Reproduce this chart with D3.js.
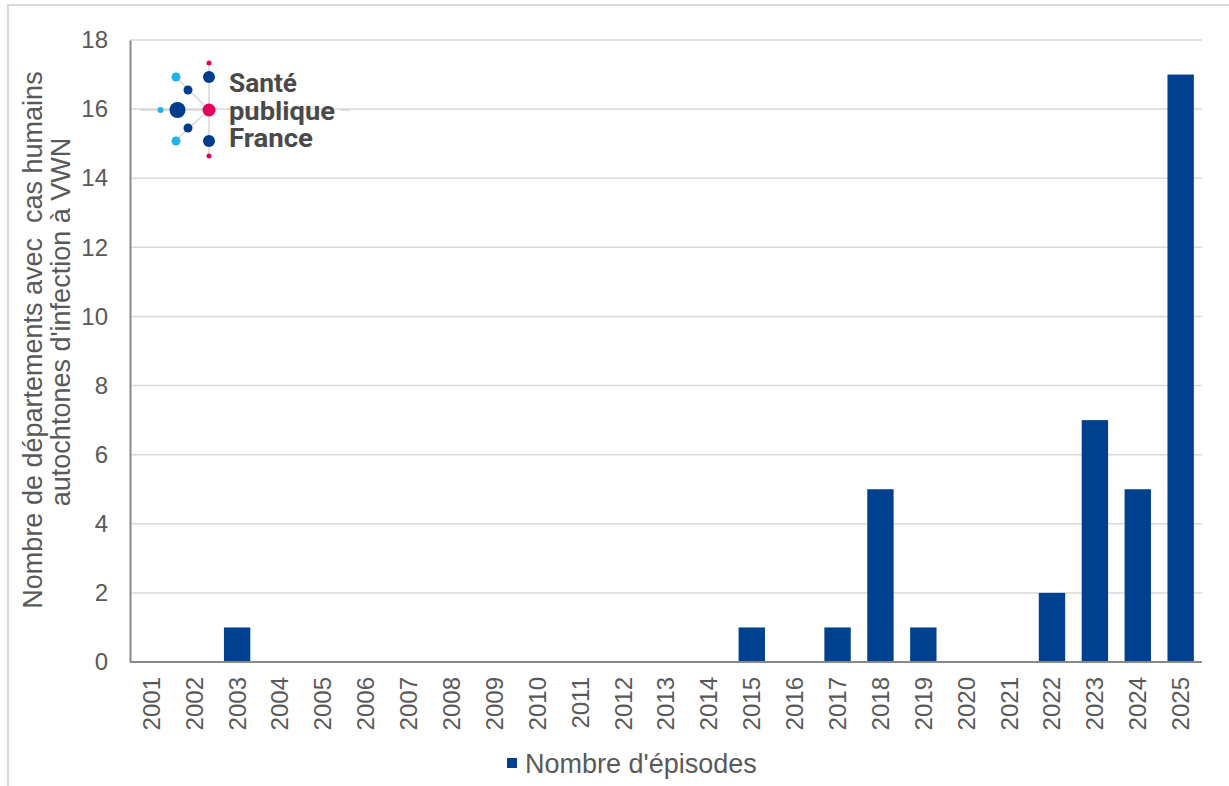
<!DOCTYPE html>
<html><head><meta charset="utf-8">
<script src="https://cdn.jsdelivr.net/npm/d3@7"></script>
<style>html,body{margin:0;padding:0;background:#fff;overflow:hidden}</style>
</head><body>
<script>
const years = ["2001","2002","2003","2004","2005","2006","2007","2008","2009","2010","2011","2012","2013","2014","2015","2016","2017","2018","2019","2020","2021","2022","2023","2024","2025"];
const episodes = [0,0,1,0,0,0,0,0,0,0,0,0,0,0,1,0,1,5,1,0,0,2,7,5,17];
const yTicks = [0,2,4,6,8,10,12,14,16,18];
const yTitle = ["Nombre de départements avec  cas humains", "autochtones d'infection à VWN"];
const seriesName = "Nombre d'épisodes";
const logoWords = ["Santé","publique","France"];

const W = 1229, H = 786;
const m = {left:130, right:1202, top:40, bottom:662};
const svg = d3.select("body").append("svg").attr("width", W).attr("height", H)
  .style("font-family", "'Liberation Sans', Arial, sans-serif");

// outer border
svg.append("path").attr("d", `M8,${H} V5 H${W}`).attr("fill","none").attr("stroke","#d9d9d9").attr("stroke-width",2);

const x = d3.scaleBand().domain(years).range([m.left, m.right]).paddingInner(0.385).paddingOuter(0.19);
const y = d3.scaleLinear().domain([0,18]).range([m.bottom, m.top]);

// gridlines
svg.append("g").selectAll("line").data(yTicks.filter(d=>d>0)).join("line")
  .attr("x1", m.left).attr("x2", m.right).attr("y1", d=>y(d)).attr("y2", d=>y(d))
  .attr("stroke","#d9d9d9").attr("stroke-width",1.5);

// bars
svg.append("g").selectAll("rect").data(years).join("rect")
  .attr("x", d=>x(d)).attr("width", x.bandwidth())
  .attr("y", (d,i)=>y(episodes[i])).attr("height", (d,i)=>y(0)-y(episodes[i]))
  .attr("fill","#00418f");

// y axis
const ya = svg.append("g").attr("transform",`translate(${m.left},0)`)
  .call(d3.axisLeft(y).tickValues(yTicks).tickSize(0).tickPadding(22));
ya.select(".domain").attr("stroke","#898989").attr("stroke-width",2);
ya.selectAll("text").attr("fill","#595959").style("font-size","24px").style("font-family","'Liberation Sans', Arial, sans-serif");

// x axis
const xa = svg.append("g").attr("transform",`translate(0,${m.bottom})`)
  .call(d3.axisBottom(x).tickSize(0));
xa.select(".domain").attr("stroke","#898989").attr("stroke-width",2)
  .attr("d", `M${m.left},0H${m.right}`);
xa.selectAll("text").attr("fill","#595959").style("font-size","24px").style("font-family","'Liberation Sans', Arial, sans-serif")
  .attr("transform","rotate(-90)").attr("text-anchor","end")
  .attr("x", -15).attr("y", 0).attr("dy","0.35em");

// y title
const tcx = [33, 61], tcy = [340, 322];
yTitle.forEach((t,i)=>{
  svg.append("text").attr("transform",`translate(${tcx[i]},${tcy[i]}) rotate(-90)`)
    .attr("text-anchor","middle").attr("dy","0.35em")
    .style("white-space","pre").attr("xml:space","preserve")
    .attr("fill","#595959").style("font-size","27px").text(t);
});

// legend
svg.append("rect").attr("x",507).attr("y",758).attr("width",10).attr("height",10).attr("fill","#00418f");
svg.append("text").attr("x",525).attr("y",773).attr("fill","#595959").style("font-size","27px").text(seriesName);

// logo
const lg = svg.append("g");
const grey = "#d6d6d6";
const lines = [[140,110,209,110],[209,63,209,156],[209,110,176,77],[209,110,176,140]];
lg.selectAll("line").data(lines).join("line")
  .attr("x1",d=>d[0]).attr("y1",d=>d[1]).attr("x2",d=>d[2]).attr("y2",d=>d[3])
  .attr("stroke",grey).attr("stroke-width",1.5);
lg.append("line").attr("x1",340).attr("x2",350).attr("y1",110).attr("y2",110).attr("stroke",grey).attr("stroke-width",1.5);
const dark="#003c8c", light="#1fb4e6", pink="#e2005a";
const dots = [[209,63,2.5,pink],[176,77,4.5,light],[209,77,6,dark],[188,90,4.5,dark],[160.5,110,3,light],[177.5,110,8,dark],[209,110,6.5,pink],[188,128,4.5,dark],[176,141,4.5,light],[209,141,6,dark],[209,156,2.5,pink]];
lg.selectAll("circle").data(dots).join("circle")
  .attr("cx",d=>d[0]).attr("cy",d=>d[1]).attr("r",d=>d[2]).attr("fill",d=>d[3]);
const lw = [[92,68],[120,106],[147,84]];
logoWords.forEach((w,i)=>{
  lg.append("text").attr("x",229).attr("y",lw[i][0]).attr("fill","#4a4a4a")
    .style("font-family","'Liberation Sans Narrow', 'Roboto', sans-serif").style("font-weight","bold").style("font-size","26px")
    .attr("textLength", lw[i][1]).attr("lengthAdjust","spacingAndGlyphs").text(w);
});
</script>
</body></html>
